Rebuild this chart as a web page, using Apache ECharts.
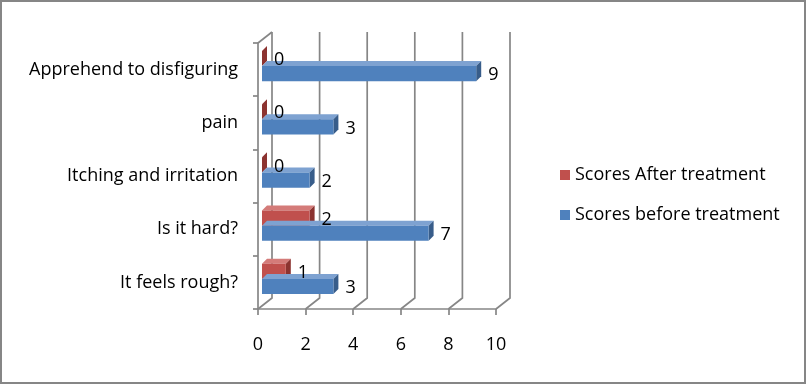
<!DOCTYPE html>
<html>
<head>
<meta charset="utf-8">
<script src="https://cdn.jsdelivr.net/npm/echarts@6/dist/echarts.min.js"></script>
<style>
html,body{margin:0;padding:0;background:#fff;}
#chart{width:806px;height:384px;}
</style>
</head>
<body>
<div id="chart"></div>
<script>
// Data (bottom to top as drawn by the category axis)
var categories = ['It feels rough?', 'Is it hard?', 'Itching and irritation', 'pain', 'Apprehend to disfiguring'];
var scoresBefore = [3, 7, 2, 3, 9];
var scoresAfter = [1, 2, 0, 0, 0];
var seriesNames = ['Scores After treatment', 'Scores before treatment'];
var xTicks = [0, 2, 4, 6, 8, 10];

var FONT = '"Open Sans", sans-serif';
var FS = 18;
var AXIS_COLOR = '#868686';

var palettes = {
  after: {front: '#C0504D', top: '#D47B79', side: '#8C3330'},
  before: {front: '#4F81BD', top: '#7EA2D1', side: '#385D8A'}
};

var SH_X = 4, SH_Y = 3.5, DEPTH = 5;

function barRenderer(which) {
  var pal = palettes[which];
  return function (params, api) {
    var v = api.value(0);
    var ci = api.value(1);
    var p0 = api.coord([0, ci]);
    var p1 = api.coord([v, ci]);
    var band = api.size([0, 1])[1];
    var h = band * 0.285;
    var c = p0[1];
    var top, bot;
    if (which === 'after') { top = c - SH_Y - h; bot = c - SH_Y; }
    else { top = c - SH_Y; bot = c - SH_Y + h; }
    var x0 = p0[0] + SH_X, x1 = p1[0] + SH_X;
    var d = DEPTH;
    var children = [];
    children.push({type: 'polygon', shape: {points: [[x0, top], [x0 + d, top - d], [x1 + d, top - d], [x1, top]]},
      style: {fill: pal.top, stroke: null}});
    children.push({type: 'polygon', shape: {points: [[x1, top], [x1 + d, top - d], [x1 + d, bot - d], [x1, bot]]},
      style: {fill: pal.side, stroke: null}});
    if (x1 > x0) {
      children.push({type: 'rect', shape: {x: x0, y: top, width: x1 - x0, height: bot - top},
        style: {fill: pal.front, stroke: null}});
    }
    children.push({type: 'text', style: {text: String(v), x: p1[0] + 16, y: (top + bot) / 2 + 1.5,
      verticalAlign: 'middle', align: 'left', font: FS + 'px ' + FONT, fill: '#000'}, z2: 10});
    return {type: 'group', children: children};
  };
}

function gridRenderer(params, api) {
  var cs = params.coordSys;
  var v = api.value(0);
  var px = api.coord([v, 0])[0];
  var bottom = cs.y + cs.height, top = cs.y;
  var dx = 14, dy = 11;
  var children = [{type: 'polyline', shape: {points: [[px, bottom], [px + dx, bottom - dy], [px + dx, top - dy]]},
    style: {stroke: AXIS_COLOR, lineWidth: 1.7, fill: null}}];
  if (v === 0) {
    children.push({type: 'line', shape: {x1: px, y1: top, x2: px + dx, y2: top - dy},
      style: {stroke: AXIS_COLOR, lineWidth: 1.7}});
  }
  return {type: 'group', children: children};
}

var chart = echarts.init(document.getElementById('chart'), null, {renderer: 'canvas'});
chart.setOption({
  animation: false,
  backgroundColor: '#fff',
  grid: {left: 258, right: 310, top: 43, bottom: 75, containLabel: false},
  xAxis: {
    type: 'value', min: 0, max: 10, interval: 2,
    axisLine: {show: true, lineStyle: {color: AXIS_COLOR, width: 1.7}},
    axisTick: {show: true, length: 6, lineStyle: {color: AXIS_COLOR, width: 1.7}},
    splitLine: {show: false},
    axisLabel: {margin: 27, color: '#000', fontSize: FS, fontFamily: FONT}
  },
  yAxis: {
    type: 'category', data: categories,
    axisLine: {show: true, lineStyle: {color: AXIS_COLOR, width: 1.7}},
    axisTick: {show: true, length: 5, lineStyle: {color: AXIS_COLOR, width: 1.7}},
    splitLine: {show: false},
    axisLabel: {margin: 20, color: '#000', fontSize: FS, fontFamily: FONT, padding: [5, 0, 0, 0]}
  },
  legend: {
    orient: 'vertical', left: 560, top: 166, padding: 0,
    itemWidth: 10, itemHeight: 10, itemGap: 22, icon: 'rect',
    textStyle: {color: '#000', fontSize: FS, fontFamily: FONT, lineHeight: 18},
    data: seriesNames
  },
  graphic: [{type: 'rect', shape: {x: 1, y: 1, width: 804, height: 382},
    style: {fill: 'none', stroke: '#868686', lineWidth: 2}, silent: true, z: 100}],
  series: [
    {type: 'custom', name: 'grid', renderItem: gridRenderer, silent: true,
      data: xTicks.map(function (t) { return [t, 0]; }), encode: {x: 0, y: 1}, z: 1},
    {type: 'custom', name: seriesNames[0], renderItem: barRenderer('after'),
      itemStyle: {color: palettes.after.front},
      data: scoresAfter.map(function (v, i) { return [v, i]; }), encode: {x: 0, y: 1}, z: 3},
    {type: 'custom', name: seriesNames[1], renderItem: barRenderer('before'),
      itemStyle: {color: palettes.before.front},
      data: scoresBefore.map(function (v, i) { return [v, i]; }), encode: {x: 0, y: 1}, z: 3}
  ]
});
</script>
</body>
</html>
